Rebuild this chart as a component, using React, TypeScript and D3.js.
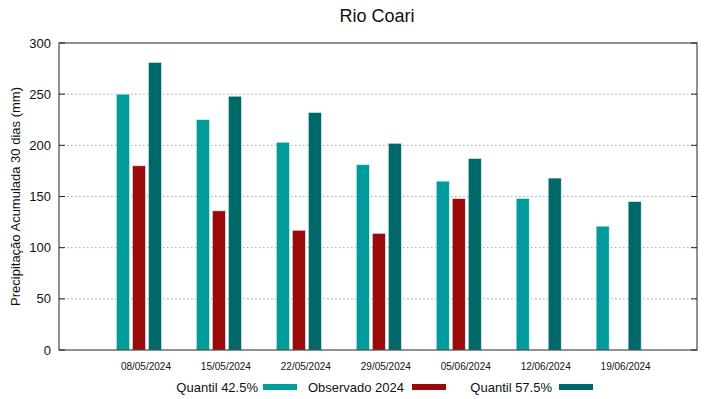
import React, { useEffect, useRef } from 'react'
import * as d3 from 'd3'

const dates = ['08/05/2024', '15/05/2024', '22/05/2024', '29/05/2024', '05/06/2024', '12/06/2024', '19/06/2024']
const quantil425 = [250, 225, 203, 181, 165, 148, 121]
const observado = [180, 136, 117, 114, 148, null, null]
const quantil575 = [281, 248, 232, 202, 187, 168, 145]
const yTicks = [0, 50, 100, 150, 200, 250, 300]

const seriesNames = ['Quantil 42.5%', 'Observado 2024', 'Quantil 57.5%']
const colors = ['#009b9b', '#9a0a0a', '#006868']

export default function App() {
  const ref = useRef<SVGSVGElement>(null)

  useEffect(() => {
    const svg = d3.select(ref.current)
    svg.selectAll('*').remove()
    const width = 719, height = 399
    const left = 59, right = 697, top = 43, bottom = 350
    const font = 'Liberation Sans, Arial, sans-serif'

    const x = d3.scaleLinear().domain([-1, 6.98]).range([left, right])
    const y = d3.scaleLinear().domain([0, 300]).range([bottom, top])

    // grid
    svg.append('g').selectAll('line')
      .data(yTicks.filter(t => t > 0 && t < 300))
      .enter().append('line')
      .attr('x1', left).attr('x2', right)
      .attr('y1', d => y(d)).attr('y2', d => y(d))
      .attr('stroke', '#a0a0a0').attr('stroke-width', 1)
      .attr('stroke-dasharray', '1.5,2.5')

    // bars
    const series = [quantil425, observado, quantil575]
    const bw = 13, step = 16
    series.forEach((vals, si) => {
      svg.append('g').selectAll('rect')
        .data(vals.map((v, i) => ({ v, i })).filter(d => d.v != null))
        .enter().append('rect')
        .attr('x', d => x(d.i) + (si - 1) * step - bw / 2)
        .attr('y', d => y(d.v as number))
        .attr('width', bw)
        .attr('height', d => bottom - y(d.v as number))
        .attr('fill', colors[si])
        .attr('stroke', '#d8eeee').attr('stroke-width', 0.6)
    })

    // frame
    svg.append('rect')
      .attr('x', left).attr('y', top)
      .attr('width', right - left).attr('height', bottom - top)
      .attr('fill', 'none').attr('stroke', '#222').attr('stroke-width', 1)

    // ticks
    const tg = svg.append('g')
    yTicks.forEach(t => {
      tg.append('line').attr('x1', left).attr('x2', left + 6).attr('y1', y(t)).attr('y2', y(t)).attr('stroke', '#222')
      tg.append('line').attr('x1', right - 6).attr('x2', right).attr('y1', y(t)).attr('y2', y(t)).attr('stroke', '#222')
      tg.append('text').attr('x', left - 8).attr('y', y(t) + 4.5)
        .attr('text-anchor', 'end').attr('font-family', font).attr('font-size', 13)
        .attr('fill', '#111').text(t)
    })

    svg.append('g').selectAll('text')
      .data(dates).enter().append('text')
      .attr('x', (d, i) => x(i) + 7).attr('y', 370)
      .attr('text-anchor', 'middle').attr('font-family', font).attr('font-size', 10)
      .attr('fill', '#111').text(d => d)

    // title
    svg.append('text').attr('x', 377).attr('y', 22)
      .attr('text-anchor', 'middle').attr('font-family', font).attr('font-size', 18)
      .attr('fill', '#111').text('Rio Coari')

    svg.append('text')
      .attr('transform', 'translate(20,' + ((top + bottom) / 2) + ') rotate(-90)')
      .attr('text-anchor', 'middle').attr('font-family', font).attr('font-size', 13)
      .attr('fill', '#111').text('Precipitação Acumulada 30 dias (mm)')

    // legend
    const legendText = [258, 404, 552]
    const legendSwatch = [263, 412, 559]
    seriesNames.forEach((n, i) => {
      svg.append('text').attr('x', legendText[i]).attr('y', 392)
        .attr('text-anchor', 'end').attr('font-family', font).attr('font-size', 13)
        .attr('fill', '#111').text(n)
      svg.append('rect').attr('x', legendSwatch[i]).attr('y', 384)
        .attr('width', 34).attr('height', 6).attr('fill', colors[i])
    })

    svg.attr('width', width).attr('height', height)
  }, [])

  return <svg ref={ref} width={719} height={399} style={{ position: 'absolute', left: 0, top: 0, background: '#fff' }} />
}
